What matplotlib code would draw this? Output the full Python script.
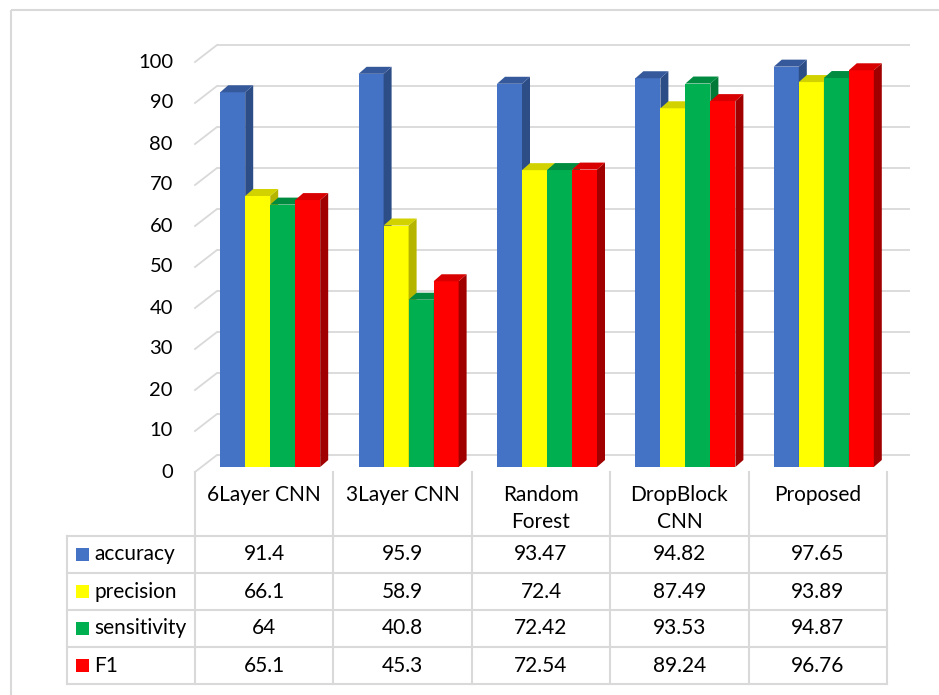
import matplotlib.pyplot as plt
import numpy as np
from matplotlib.patches import Polygon, Rectangle

# данные с картинки
categories = ['6Layer CNN', '3Layer CNN', 'Random\nForest', 'DropBlock\nCNN', 'Proposed']
series = ['accuracy', 'precision', 'sensitivity', 'F1']
accuracy = [91.4, 95.9, 93.47, 94.82, 97.65]
precision = [66.1, 58.9, 72.4, 87.49, 93.89]
sensitivity = [64, 40.8, 72.42, 93.53, 94.87]
f1 = [65.1, 45.3, 72.54, 89.24, 96.76]
cell_text = [['91.4', '95.9', '93.47', '94.82', '97.65'],
             ['66.1', '58.9', '72.4', '87.49', '93.89'],
             ['64', '40.8', '72.42', '93.53', '94.87'],
             ['65.1', '45.3', '72.54', '89.24', '96.76']]
yticks = list(range(0, 101, 10))

# цвета: лицевая грань, боковая, верхняя
front = ['#4472C4', '#FFFF00', '#00B050', '#FF0000']
side = ['#2C4D86', '#B5B500', '#007A36', '#A00000']
top = ['#36599C', '#D2D200', '#008C40', '#D80000']

plt.rcParams['font.family'] = ['Lato', 'DejaVu Sans']
plt.rcParams['font.size'] = 15

W, H = 939, 695
fig = plt.figure(figsize=(W / 100, H / 100), dpi=100)

# фон-оси в пикселях для таблицы и рамки
bg = fig.add_axes([0, 0, 1, 1])
bg.set_xlim(0, W)
bg.set_ylim(H, 0)
bg.axis('off')

# основная ось: плоскость столбиков
x0, base, ncat = 201, 467, len(categories)
cw, vh = 138.4, 410.0
ax = fig.add_axes([x0 / W, (H - base) / H, cw * ncat / W, vh / H])
ax.set_xlim(0, ncat)
ax.set_ylim(0, 100)
ax.axis('off')
ax.set_zorder(2)
ax.patch.set_alpha(0)

px_x = cw          # пикселей на единицу x
px_y = vh / 100.0  # пикселей на единицу y


def off(dx_px, dy_px):
    # пиксельный сдвиг -> единицы данных (dy вверх положительно)
    return dx_px / px_x, dy_px / px_y


grid_c = '#D9D9D9'
# задняя стенка и левая стенка
fx, fy = off(-6, -5)    # передняя плоскость
bx, by = off(16, 12)    # задняя стенка
right_end = (910 - x0) / px_x
for v in yticks:
    ax.plot([bx, right_end], [v + by, v + by], color=grid_c, lw=1.3,
            clip_on=False, zorder=0, solid_capstyle='butt')
    ax.plot([fx, bx], [v + fy, v + by], color=grid_c, lw=1.3,
            clip_on=False, zorder=0)
    ax.text(fx - 22 / px_x, v + fy, str(v), ha='right', va='center',
            fontsize=14.5, color='#000000')

# столбики
values = [accuracy, precision, sensitivity, f1]
bw = 25 / px_x
gap_left = (cw - 4 * 25) / 2 / px_x
ddx, ddy = off(8, 7)
x = np.arange(ncat)
for i, vals in enumerate(values):
    xs = x + gap_left + i * bw
    ax.bar(xs, vals, width=bw, align='edge', color=front[i], lw=0, zorder=3)
    for xl, v in zip(xs, vals):
        xr = xl + bw
        ax.add_patch(Polygon([(xr, 0), (xr + ddx, ddy), (xr + ddx, v + ddy), (xr, v)],
                             closed=True, fc=side[i], lw=0, zorder=3, clip_on=False))
        ax.add_patch(Polygon([(xl, v), (xl + ddx, v + ddy), (xr + ddx, v + ddy), (xr, v)],
                             closed=True, fc=top[i], lw=0, zorder=3, clip_on=False))

# внешняя рамка
bg.add_patch(Rectangle((11, 10), W, H, fill=False, ec='#D9D9D9', lw=1.5))

# таблица данных
col_x = [195 + cw * k for k in range(ncat + 1)]
row_y = [536, 573, 610, 647, 684]
tc = '#D9D9D9'
for cx in col_x:
    bg.plot([cx, cx], [472, row_y[-1]], color=tc, lw=1.5)
bg.plot([67, 67], [row_y[0], row_y[-1]], color=tc, lw=1.5)
for ry in row_y:
    bg.plot([67, col_x[-1]], [ry, ry], color=tc, lw=1.5)

for k, name in enumerate(categories):
    cxm = (col_x[k] + col_x[k + 1]) / 2
    for j, line in enumerate(name.split('\n')):
        bg.text(cxm, 495 + 27 * j, line, ha='center', va='center', fontsize=15)

for i, name in enumerate(series):
    ym = (row_y[i] + row_y[i + 1]) / 2
    bg.add_patch(Rectangle((76, ym - 6.5), 13, 13, color=front[i], lw=0))
    bg.text(94, ym, name, ha='left', va='center', fontsize=15)
    for k in range(ncat):
        cxm = (col_x[k] + col_x[k + 1]) / 2
        bg.text(cxm, ym, cell_text[i][k], ha='center', va='center', fontsize=15)

fig.savefig('out.png', dpi=100)
